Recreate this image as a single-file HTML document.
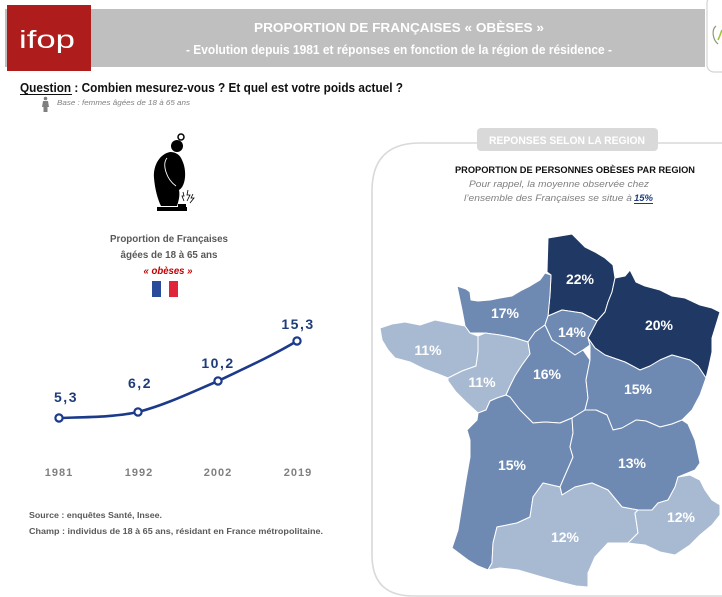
<!DOCTYPE html>
<html><head><meta charset="utf-8"><style>
html,body{margin:0;padding:0;background:#fff;width:722px;height:597px;overflow:hidden}
svg{display:block}
text{font-family:"Liberation Sans",sans-serif}
</style></head><body>
<svg width="722" height="597" viewBox="0 0 722 597" xmlns="http://www.w3.org/2000/svg">
<!-- header banner -->
<rect x="5" y="9" width="700" height="58" fill="#bfbfbf"/>
<rect x="7" y="5" width="84" height="66" fill="#af1c1c"/>
<text x="19" y="48" font-size="25" fill="#fff" textLength="56" lengthAdjust="spacingAndGlyphs" font-weight="normal">ifop</text>
<text x="399" y="32" font-size="13" font-weight="bold" fill="#fff" text-anchor="middle" textLength="290" lengthAdjust="spacingAndGlyphs">PROPORTION DE FRANÇAISES « OBÈSES »</text>
<text x="399" y="54" font-size="12.5" font-weight="bold" fill="#fff" text-anchor="middle" textLength="426" lengthAdjust="spacingAndGlyphs">- Evolution depuis 1981 et réponses en fonction de la région de résidence -</text>
<rect x="707" y="-4" width="30" height="76" rx="7" fill="#fff" stroke="#d4d4d4" stroke-width="1.2"/>
<path d="M716,26 C711,30 713,40 718,44" fill="none" stroke="#8a9a7a" stroke-width="1.2"/>
<path d="M718,40 C720,36 721,32 722,30" fill="none" stroke="#9cc33a" stroke-width="1.5"/>

<!-- question -->
<text x="20" y="92" font-size="13" font-weight="bold" fill="#111" textLength="383" lengthAdjust="spacingAndGlyphs">Question : Combien mesurez-vous ? Et quel est votre poids actuel ?</text>
<line x1="20" y1="94.5" x2="72" y2="94.5" stroke="#111" stroke-width="1"/>
<circle cx="45.5" cy="98.5" r="1.8" fill="#7f7f7f"/>
<path d="M43,101 L48,101 L49,107 L47.5,107 L47.5,112 L43.5,112 L43.5,107 L42,107 Z" fill="#7f7f7f"/>
<text x="57" y="105" font-size="7" font-style="italic" fill="#7f7f7f" textLength="133" lengthAdjust="spacingAndGlyphs">Base : femmes âgées de 18 à 65 ans</text>

<!-- woman icon -->
<circle cx="181" cy="137" r="3" fill="none" stroke="#000" stroke-width="1.5"/>
<circle cx="177" cy="146" r="6" fill="#000"/>
<path d="M170,152 C160,154 153,165 154,178 C155,190 158,200 161,206 L177,206 C179,200 180,195 179,190 C186,186 187,170 182,160 C180,155 176,152 170,152 Z" fill="#000"/>
<path d="M167,158 C162,164 166,179 176,186" fill="none" stroke="#fff" stroke-width="0.9"/>
<rect x="157" y="207" width="30" height="4" fill="#000"/>
<rect x="178" y="204" width="8" height="3" fill="#000"/>
<path d="M183,192 L184,196 L182,196 L184,201 M188,190 L187,195 L190,195 L187,201 M193,194 L191,198 L194,198 L190,203" fill="none" stroke="#000" stroke-width="0.8"/>

<text x="169" y="242" font-size="10" font-weight="bold" fill="#595959" text-anchor="middle" textLength="118" lengthAdjust="spacingAndGlyphs">Proportion de Françaises</text>
<text x="169" y="258" font-size="10" font-weight="bold" fill="#595959" text-anchor="middle" textLength="97" lengthAdjust="spacingAndGlyphs">âgées de 18 à 65 ans</text>
<text x="168" y="274" font-size="10" font-weight="bold" font-style="italic" fill="#c00000" text-anchor="middle" textLength="49" lengthAdjust="spacingAndGlyphs">« obèses »</text>
<rect x="152" y="281" width="9" height="16" fill="#2a4a9a"/>
<rect x="161" y="281" width="8" height="16" fill="#fff"/>
<rect x="169" y="281" width="9" height="16" fill="#e0243a"/>

<!-- line chart -->
<path d="M59,418 C90,417 115,417 138,412 C165,405 190,393 218,381 C245,368 270,357 297,341" fill="none" stroke="#1b3a8a" stroke-width="2.6"/>
<g fill="#fff" stroke="#1b3a8a" stroke-width="2.2">
<circle cx="59" cy="418" r="3.6"/><circle cx="138" cy="412" r="3.6"/><circle cx="218" cy="381" r="3.6"/><circle cx="297" cy="341" r="3.6"/>
</g>
<g font-size="14" font-weight="bold" fill="#1f3c7a" text-anchor="middle">
<text x="66" y="402" letter-spacing="1.5">5,3</text>
<text x="140" y="388" letter-spacing="1.5">6,2</text>
<text x="218" y="368" letter-spacing="1.5">10,2</text>
<text x="298" y="329" letter-spacing="1.5">15,3</text>
</g>
<g font-size="11" font-weight="bold" fill="#808080" text-anchor="middle" letter-spacing="1">
<text x="59" y="476">1981</text><text x="139" y="476">1992</text><text x="218" y="476">2002</text><text x="298" y="476">2019</text>
</g>
<text x="29" y="518" font-size="8" font-weight="bold" fill="#595959" textLength="133" lengthAdjust="spacingAndGlyphs">Source : enquêtes Santé, Insee.</text>
<text x="29" y="534" font-size="8" font-weight="bold" fill="#595959" textLength="294" lengthAdjust="spacingAndGlyphs">Champ : individus de 18 à 65 ans, résidant en France métropolitaine.</text>

<!-- map panel -->
<path d="M760,143 L420,143 Q372,143 372,191 L372,555 Q372,596 413,596 L760,596" fill="none" stroke="#d9d9d9" stroke-width="1.6"/>
<rect x="477" y="128" width="181" height="23" rx="4" fill="#d9d9d9"/>
<text x="567" y="144" font-size="11" font-weight="bold" fill="#fff" text-anchor="middle" textLength="156" lengthAdjust="spacingAndGlyphs">REPONSES SELON  LA REGION</text>
<text x="575" y="173" font-size="9.5" font-weight="bold" fill="#111" text-anchor="middle" textLength="240" lengthAdjust="spacingAndGlyphs">PROPORTION DE PERSONNES OBÈSES PAR REGION</text>
<text x="559" y="187" font-size="9" font-style="italic" fill="#7f7f7f" text-anchor="middle" textLength="180" lengthAdjust="spacingAndGlyphs">Pour rappel, la moyenne observée chez</text>
<text x="464" y="201" font-size="9" font-style="italic" fill="#7f7f7f" textLength="168" lengthAdjust="spacingAndGlyphs">l’ensemble des Françaises se situe à</text>
<text x="634" y="201" font-size="9" font-style="italic" font-weight="bold" fill="#1f3c7a" textLength="19" lengthAdjust="spacingAndGlyphs">15%</text>
<line x1="634" y1="203.5" x2="653" y2="203.5" stroke="#1f3c7a" stroke-width="1"/>

<g stroke="#fff" stroke-width="1" stroke-linejoin="round">
<!-- Hauts-de-France -->
<path fill="#1f3864" d="M548,238 L560,236 L572,234 L578,240 L585,247 L595,252 L605,258 L613,265 L615,278 L612,292 L608,302 L605,312 L597,321 L582,313 L562,310 L548,316 L550,295 L551,275 L547,272 Z"/>
<!-- Grand Est -->
<path fill="#1f3864" d="M612,292 L615,278 L625,276 L630,270 L636,282 L645,286 L660,290 L672,296 L685,298 L700,305 L712,308 L720,312 L716,325 L712,338 L712,352 L709,366 L706,378 L698,366 L690,360 L672,355 L660,360 L650,366 L640,370 L625,362 L605,355 L595,348 L588,338 L597,321 L605,312 L608,302 Z"/>
<!-- Normandie -->
<path fill="#6f8ab2" d="M457,286 L466,289 L470,292 L471,300 L478,301 L490,300 L500,298 L512,296 L522,290 L530,286 L540,280 L545,273 L551,275 L550,295 L548,316 L545,325 L535,332 L528,342 L515,338 L500,335 L485,333 L470,333 L465,326 L462,310 Z"/>
<!-- Ile-de-France -->
<path fill="#6f8ab2" d="M548,316 L562,310 L582,313 L597,321 L588,338 L590,345 L583,350 L575,355 L565,348 L552,340 L545,325 Z"/>
<!-- Bretagne -->
<path fill="#a8bad2" d="M380,328 L392,324 L405,322 L420,325 L435,320 L450,323 L465,326 L470,333 L478,336 L478,352 L476,366 L462,371 L448,378 L438,374 L424,369 L410,362 L395,358 L388,350 L382,340 Z"/>
<!-- Pays de la Loire -->
<path fill="#a8bad2" d="M478,336 L485,333 L500,335 L515,338 L528,342 L530,354 L522,365 L515,376 L510,386 L506,395 L497,398 L490,401 L486,410 L478,413 L466,402 L456,392 L448,381 L448,378 L462,371 L476,366 L478,352 Z"/>
<!-- Centre-Val de Loire -->
<path fill="#6f8ab2" d="M528,342 L535,332 L545,325 L552,340 L565,348 L575,355 L583,350 L590,360 L586,380 L588,398 L585,410 L572,418 L560,423 L545,422 L533,423 L520,410 L510,397 L506,395 L510,386 L515,376 L522,365 L530,354 Z"/>
<!-- Bourgogne-Franche-Comte -->
<path fill="#6f8ab2" d="M590,345 L588,338 L595,348 L605,355 L625,362 L640,370 L650,366 L660,360 L672,355 L690,360 L698,366 L706,378 L700,395 L692,410 L682,420 L672,424 L660,427 L646,421 L636,420 L622,428 L613,430 L607,415 L596,410 L585,410 L588,398 L586,380 L590,360 Z"/>
<!-- Nouvelle-Aquitaine -->
<path fill="#6f8ab2" d="M478,413 L486,410 L490,401 L497,398 L506,395 L510,397 L520,410 L533,423 L545,422 L560,423 L572,418 L573,433 L570,447 L573,457 L563,480 L560,487 L543,483 L533,497 L530,517 L517,523 L497,527 L493,543 L492,563 L488,570 L478,566 L468,560 L452,548 L458,530 L462,505 L466,480 L470,457 L470,440 L467,430 L477,420 Z"/>
<!-- Auvergne-Rhone-Alpes -->
<path fill="#6f8ab2" d="M572,418 L585,410 L596,410 L607,415 L613,430 L622,428 L636,420 L646,421 L660,427 L672,424 L682,420 L688,424 L695,440 L700,463 L695,470 L678,477 L675,487 L668,500 L658,503 L652,510 L638,510 L622,507 L608,490 L592,483 L575,487 L562,495 L560,487 L563,480 L573,457 L570,447 L573,433 Z"/>
<!-- Occitanie -->
<path fill="#a8bad2" d="M488,570 L492,563 L493,543 L497,527 L517,523 L530,517 L533,497 L543,483 L560,487 L562,495 L575,487 L592,483 L608,490 L622,507 L638,510 L635,513 L638,533 L628,543 L608,543 L595,557 L588,573 L588,587 L576,586 L560,582 L542,577 L518,570 L500,568 Z"/>
<!-- PACA -->
<path fill="#a8bad2" d="M635,513 L638,510 L652,510 L658,503 L668,500 L675,487 L678,477 L690,475 L700,480 L705,490 L712,500 L720,505 L720,515 L712,525 L700,535 L690,545 L675,555 L660,552 L645,545 L628,543 L638,533 Z"/>
</g>
<g font-size="14" font-weight="bold" fill="#fff" text-anchor="middle">
<text x="580" y="284">22%</text>
<text x="659" y="330">20%</text>
<text x="505" y="318">17%</text>
<text x="572" y="337">14%</text>
<text x="428" y="355">11%</text>
<text x="482" y="387">11%</text>
<text x="547" y="379">16%</text>
<text x="638" y="394">15%</text>
<text x="512" y="470">15%</text>
<text x="632" y="468">13%</text>
<text x="565" y="542">12%</text>
<text x="681" y="522">12%</text>
</g>
</svg>
</body></html>
